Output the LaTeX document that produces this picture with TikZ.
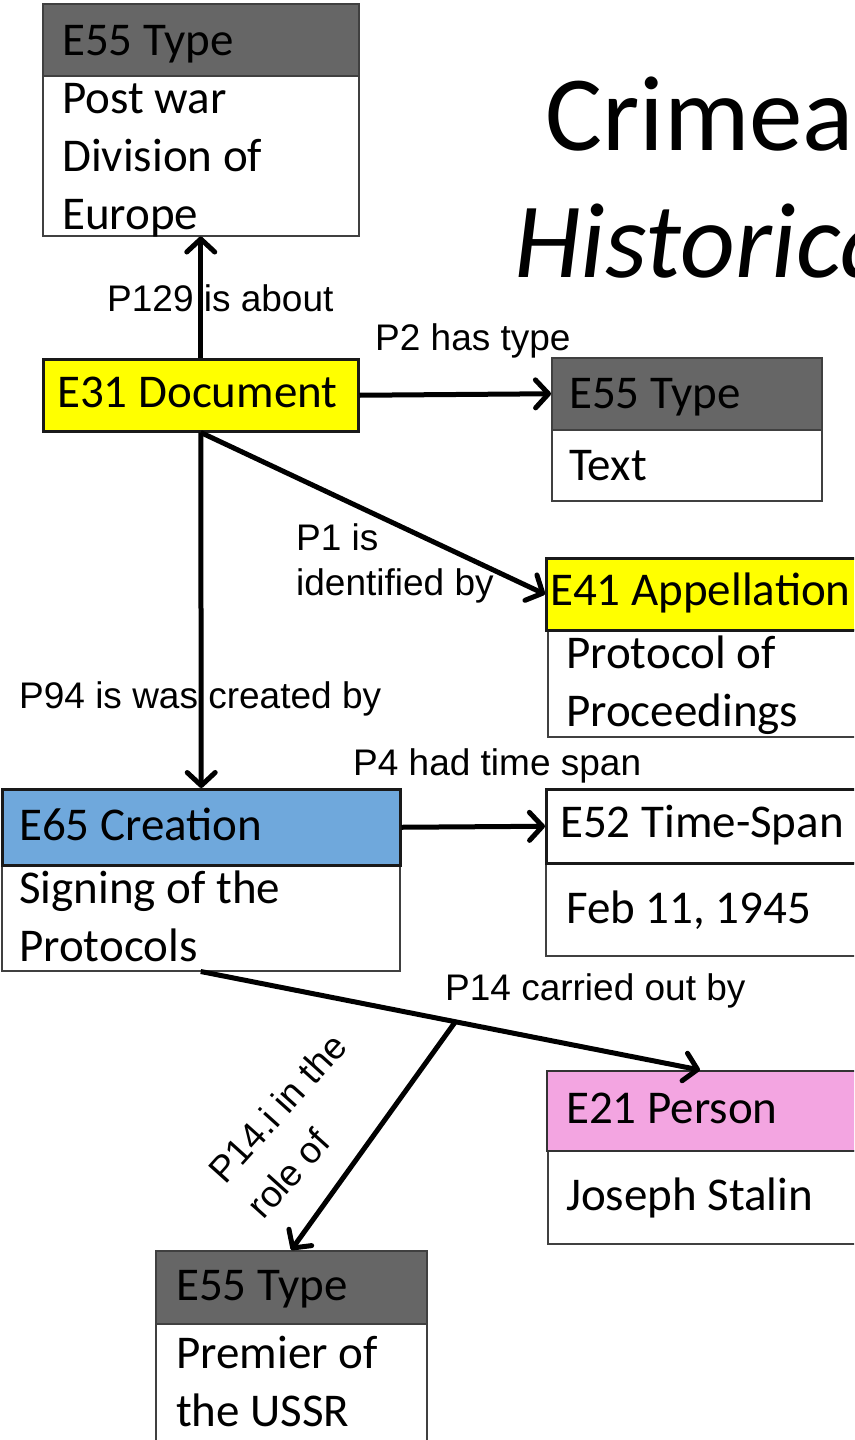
\documentclass[tikz,border=0pt]{standalone}
\usepackage{fontspec}
\setmainfont{Carlito}
\newfontfamily\lblfont{Liberation Sans}
\usetikzlibrary{arrows.meta}
\definecolor{hdrgrey}{HTML}{666666}
\definecolor{boxline}{HTML}{404040}
\definecolor{docyellow}{HTML}{FFFF00}
\definecolor{creblue}{HTML}{6FA8DC}
\definecolor{perspink}{HTML}{F3A5E1}
\tikzset{
  cbox/.style={draw=boxline, line width=1.5pt, inner sep=0pt, anchor=north west, fill=white},
  hbox/.style={draw=black!90, line width=2.5pt, inner sep=0pt, anchor=north west},
  btext/.style={font=\fontsize{47}{58}\selectfont, inner sep=0pt, anchor=base west},
  mtext/.style={btext, text width=320pt, align=flush left},
  elabel/.style={font=\lblfont\fontsize{37}{45}\selectfont, inner sep=0pt, anchor=base west},
  ttl/.style={font=\fontsize{107}{110}\selectfont, inner sep=0pt, anchor=base west},
  conn/.style={line width=5pt, -{Straight Barb[length=13pt,width=28pt,line cap=round,line join=round]}}
}
\begin{document}
\begin{tikzpicture}[x=1pt,y=-1pt]
\useasboundingbox (0,0) rectangle (854,1440);
\clip (0,0) rectangle (854,1440);
\fill[white] (0,0) rectangle (854,1440);

% title
\node[ttl] (title1) at (545,150) {Crimea};
\node[ttl, font=\fontsize{107}{110}\selectfont\itshape] (title2) at (514,277) {Historica};

% E55 Type - Post war Division of Europe
\node[cbox, fill=hdrgrey, minimum width=316pt, minimum height=72pt] (t1h) at (42,3) {};
\node[cbox, minimum width=316pt, minimum height=160pt] (t1b) at (42,75) {};
\node[btext] (t1ht) at (62,55) {E55 Type};
\node[mtext] (t1bt) at (62,113) {Post war\\Division of\\Europe};

% E31 Document
\node[hbox, fill=docyellow, minimum width=315pt, minimum height=72pt] (doc) at (42,358) {};
\node[btext] (doct) at (57,407) {E31 Document};

% E55 Type - Text
\node[cbox, fill=hdrgrey, minimum width=270pt, minimum height=72pt] (t2h) at (551,357) {};
\node[cbox, minimum width=270pt, minimum height=71pt] (t2b) at (551,429) {};
\node[btext] (t2ht) at (569,408) {E55 Type};
\node[btext] (t2bt) at (569,480) {Text};

% E41 Appellation
\node[cbox, minimum width=325pt, minimum height=107pt] (appb) at (547,629) {};
\node[hbox, fill=docyellow, minimum width=325pt, minimum height=72pt] (apph) at (545,557) {};
\node[btext] (appht) at (550,605) {E41 Appellation};
\node[mtext] (appbt) at (566,668) {Protocol of\\Proceedings};

% E52 Time-Span
\node[cbox, minimum width=325pt, minimum height=93pt] (tsb) at (545,862) {};
\node[hbox, fill=white, minimum width=325pt, minimum height=74pt] (tsh) at (545,788) {};
\node[btext] (tsht) at (560,837) {E52 Time-Span};
\node[btext] (tsbt) at (566,923) {Feb 11, 1945};

% E65 Creation
\node[cbox, minimum width=398pt, minimum height=106pt] (crb) at (1,864) {};
\node[hbox, fill=creblue, minimum width=398pt, minimum height=76pt] (crh) at (1,788) {};
\node[btext] (crht) at (19,840) {E65 Creation};
\node[mtext] (crbt) at (19,903) {Signing of the\\Protocols};

% E21 Person
\node[cbox, minimum width=323pt, minimum height=93pt] (pb) at (547,1150) {};
\node[cbox, draw=black!80, line width=2pt, fill=perspink, minimum width=324pt, minimum height=80pt] (ph) at (546,1070) {};
\node[btext] (pht) at (566,1123) {E21 Person};
\node[btext] (pbt) at (566,1210) {Joseph Stalin};

% E55 Type - Premier of the USSR
\node[cbox, fill=hdrgrey, minimum width=271pt, minimum height=73pt] (t3h) at (155,1250) {};
\node[cbox, minimum width=271pt, minimum height=118pt] (t3b) at (155,1323) {};
\node[btext] (t3ht) at (176,1300) {E55 Type};
\node[mtext] (t3bt) at (176,1368) {Premier of\\the USSR};

% edge labels
\node[elabel] (l129) at (107,311) {P129 is about};
\node[elabel] (l2) at (375,350) {P2 has type};
\node[elabel, text width=250pt, align=flush left] (l1) at (296,550) {P1 is\\identified by};
\node[elabel] (l94) at (19,708) {P94 is was created by};
\node[elabel] (l4) at (353,775) {P4 had time span};
\node[elabel] (l14) at (445,1000) {P14 carried out by};
\node[elabel, font=\lblfont\fontsize{37}{52}\selectfont, text width=200pt, align=flush left, rotate=48] (l14i) at (225,1186) {P14.i in the\\role of};

% connectors
\draw[conn] (doc.north) -- (t1b.south);
\draw[conn] (doc.east) -- (t2h.west);
\draw[conn] (doc.south) -- (apph.west);
\draw[conn] (doc.south) -- (crh.north);
\draw[conn] (crh.east) -- (tsh.west);
\draw[conn] (crb.south) -- ([xshift=154pt]ph.north west) coordinate[pos=0.51] (mid);
\draw[conn] (mid) -- (t3h.north);
\end{tikzpicture}
\end{document}
